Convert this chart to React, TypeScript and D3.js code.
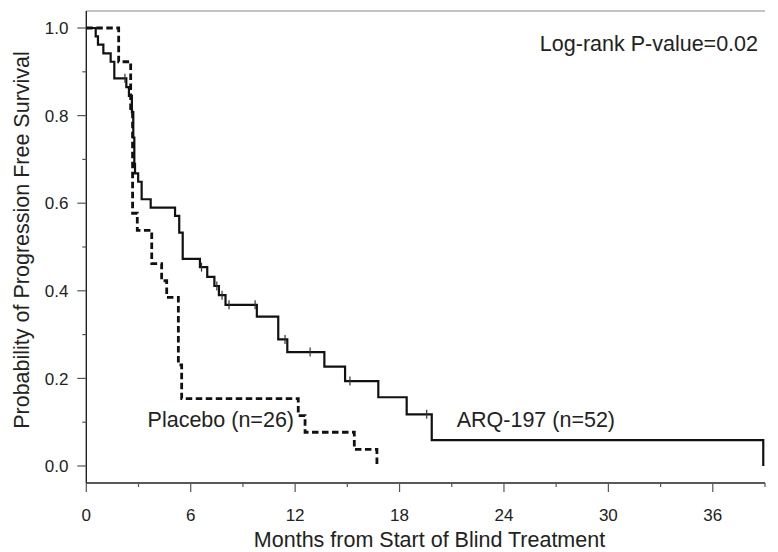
import { useEffect, useRef } from 'react'
import * as d3 from 'd3'

// Kaplan-Meier steps: time of each drop (months) and survival after it
const arqTimes = [0.54, 0.67, 0.98, 1.4, 1.61, 2.3, 2.45, 2.62, 2.7, 2.76, 2.8, 2.98, 3.18, 3.7, 5.1, 5.34, 5.54, 6.53, 6.95, 7.36, 7.62, 8.0, 9.8, 11.03, 11.55, 13.68, 14.87, 16.78, 18.41, 19.85, 38.9]
const arqSurv = [0.981, 0.962, 0.942, 0.923, 0.885, 0.865, 0.845, 0.808, 0.75, 0.69, 0.668, 0.649, 0.609, 0.59, 0.571, 0.533, 0.473, 0.454, 0.432, 0.411, 0.39, 0.368, 0.341, 0.289, 0.26, 0.227, 0.194, 0.157, 0.118, 0.059, 0.0]
const arqCensored = [2.22, 6.62, 7.5, 7.8, 8.2, 9.7, 11.42, 12.86, 15.15, 19.56]

const placeboTimes = [1.86, 2.55, 2.66, 2.93, 3.76, 4.33, 4.62, 5.29, 5.48, 12.18, 12.57, 15.4, 16.7]
const placeboSurv = [0.923, 0.808, 0.577, 0.538, 0.462, 0.423, 0.385, 0.231, 0.154, 0.115, 0.077, 0.038, 0.0]

const xMajorTicks = [0, 6, 12, 18, 24, 30, 36]
const xMinorTicks = [3, 9, 15, 21, 27, 33, 39]
const yMajorTicks = [0, 0.2, 0.4, 0.6, 0.8, 1.0]
const yMinorTicks = [0.1, 0.3, 0.5, 0.7, 0.9]

const font = 'Liberation Sans, Arial, Helvetica, sans-serif'

function survivalAt(times: number[], surv: number[], t: number) {
  let s = 1
  for (let i = 0; i < times.length; i++) {
    if (times[i] <= t) s = surv[i]
  }
  return s
}

export default function App() {
  const svgRef = useRef<SVGSVGElement>(null)

  useEffect(() => {
    if (!svgRef.current) return
    d3.select(svgRef.current).selectAll('*').remove()

    const width = 778
    const height = 552
    const svg = d3.select(svgRef.current).attr('width', width).attr('height', height)

    const x = d3.scaleLinear().domain([0, 39]).range([86.3, 765])
    const y = d3.scaleLinear().domain([0, 1]).range([466, 28])
    const axisY = 483
    const axisTop = 11

    // frame lines
    svg.append('line')
      .attr('x1', x(0)).attr('x2', x(39)).attr('y1', axisTop).attr('y2', axisTop)
      .attr('stroke', '#888').attr('stroke-width', 1)
    svg.append('line')
      .attr('x1', x(0)).attr('x2', x(0)).attr('y1', axisTop).attr('y2', axisY)
      .attr('stroke', '#222').attr('stroke-width', 1.4)
    svg.append('line')
      .attr('x1', x(0)).attr('x2', x(39)).attr('y1', axisY).attr('y2', axisY)
      .attr('stroke', '#222').attr('stroke-width', 1.4)

    // y ticks
    svg.selectAll('.ymaj').data(yMajorTicks).enter().append('line')
      .attr('x1', x(0) - 9).attr('x2', x(0)).attr('y1', (d) => y(d)).attr('y2', (d) => y(d))
      .attr('stroke', '#555').attr('stroke-width', 1.2)
    svg.selectAll('.ymin').data(yMinorTicks).enter().append('line')
      .attr('x1', x(0) - 4).attr('x2', x(0)).attr('y1', (d) => y(d)).attr('y2', (d) => y(d))
      .attr('stroke', '#555').attr('stroke-width', 1.2)
    svg.selectAll('.ylab').data(yMajorTicks).enter().append('text')
      .attr('x', 68.5).attr('y', (d) => y(d)).attr('dy', '0.36em')
      .attr('text-anchor', 'end').attr('font-family', font).attr('font-size', 17).attr('fill', '#222')
      .text((d) => d3.format('.1f')(d))

    // x ticks
    svg.selectAll('.xmaj').data(xMajorTicks).enter().append('line')
      .attr('x1', (d) => x(d)).attr('x2', (d) => x(d)).attr('y1', axisY).attr('y2', axisY + 9)
      .attr('stroke', '#555').attr('stroke-width', 1.2)
    svg.selectAll('.xmin').data(xMinorTicks).enter().append('line')
      .attr('x1', (d) => x(d)).attr('x2', (d) => x(d)).attr('y1', axisY).attr('y2', axisY + 4)
      .attr('stroke', '#555').attr('stroke-width', 1.2)
    svg.selectAll('.xlab').data(xMajorTicks).enter().append('text')
      .attr('x', (d) => x(d)).attr('y', 521)
      .attr('text-anchor', 'middle').attr('font-family', font).attr('font-size', 17).attr('fill', '#222')
      .text((d) => String(d))

    // axis titles
    svg.append('text')
      .attr('x', 429.5).attr('y', 546.5).attr('text-anchor', 'middle')
      .attr('font-family', font).attr('font-size', 21.5).attr('fill', '#222')
      .text('Months from Start of Blind Treatment')
    svg.append('text')
      .attr('transform', 'translate(28.5,240) rotate(-90)').attr('text-anchor', 'middle')
      .attr('font-family', font).attr('font-size', 21.5).attr('fill', '#222')
      .text('Probability of Progression Free Survival')

    // curves
    const line = d3.line<[number, number]>()
      .x((d) => x(d[0]))
      .y((d) => y(d[1]))
      .curve(d3.curveStepAfter)

    const arqPts: [number, number][] = [[0, 1], ...arqTimes.map((t, i) => [t, arqSurv[i]] as [number, number])]
    const plPts: [number, number][] = [[0, 1], ...placeboTimes.map((t, i) => [t, placeboSurv[i]] as [number, number])]

    svg.append('path')
      .datum(plPts)
      .attr('fill', 'none').attr('stroke', '#111').attr('stroke-width', 2.8)
      .attr('stroke-dasharray', '6.5,3.5')
      .attr('d', line)

    svg.append('path')
      .datum(arqPts)
      .attr('fill', 'none').attr('stroke', '#111').attr('stroke-width', 2.2)
      .attr('d', line)

    // censoring marks
    svg.selectAll('.cens').data(arqCensored).enter().append('line')
      .attr('x1', (d) => x(d)).attr('x2', (d) => x(d))
      .attr('y1', (d) => y(survivalAt(arqTimes, arqSurv, d)) - 4.5)
      .attr('y2', (d) => y(survivalAt(arqTimes, arqSurv, d)) + 4.5)
      .attr('stroke', '#333').attr('stroke-width', 1.2)

    // annotations
    svg.append('text')
      .attr('x', 758).attr('y', 51).attr('text-anchor', 'end')
      .attr('font-family', font).attr('font-size', 21.5).attr('fill', '#222')
      .text('Log-rank P-value=0.02')
    svg.append('text')
      .attr('x', 294).attr('y', 427).attr('text-anchor', 'end')
      .attr('font-family', font).attr('font-size', 21.5).attr('fill', '#222')
      .text('Placebo (n=26)')
    svg.append('text')
      .attr('x', 456.7).attr('y', 427).attr('text-anchor', 'start')
      .attr('font-family', font).attr('font-size', 21.5).attr('fill', '#222')
      .text('ARQ-197 (n=52)')
  }, [])

  return (
    <svg
      ref={svgRef}
      style={{ position: 'absolute', left: 0, top: 0, background: '#fff' }}
    />
  )
}
